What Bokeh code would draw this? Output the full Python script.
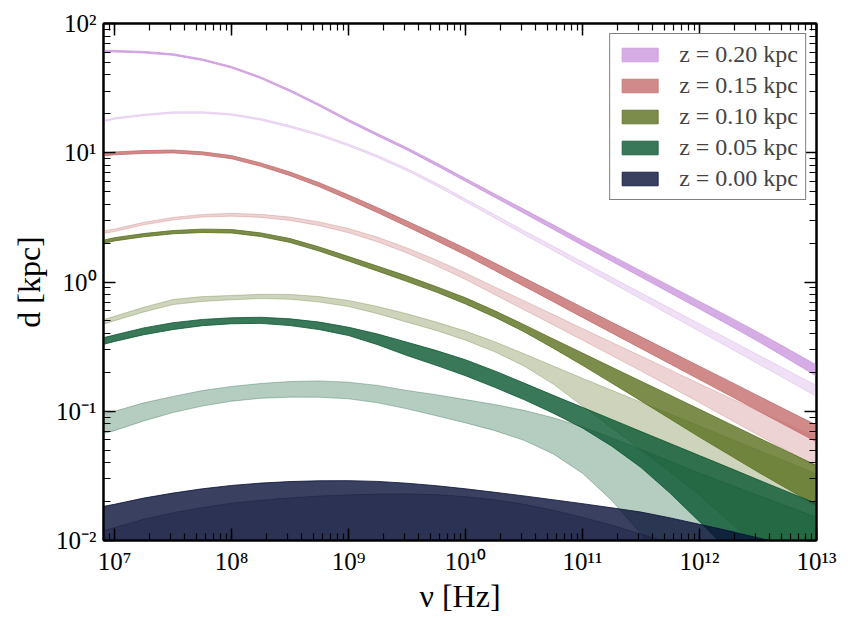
from bokeh.plotting import figure
from bokeh.models import (LogAxis, LogTicker, CustomJSTickFormatter, Legend,
                          LegendItem, Range1d)
from bokeh.embed import file_html
from bokeh.resources import INLINE

# frequency samples, log10(nu / Hz)
LOG10_NU_HZ = [6.9, 7.0, 7.25, 7.5, 7.75, 8.0, 8.25, 8.5, 8.75, 9.0, 9.25, 9.5, 9.75,
               10.0, 10.25, 10.5, 10.75, 11.0, 11.25, 11.5, 11.75, 12.0, 12.25, 12.5,
               12.75, 13.0]

Z_LABELS = ["z = 0.20 kpc", "z = 0.15 kpc", "z = 0.10 kpc",
            "z = 0.05 kpc", "z = 0.00 kpc"]
COLORS = ["#ca97dd", "#c46d6d", "#5a6f1e", "#095631", "#091037"]

# band edges, log10(d / kpc)
Z020_DARK_HI = [1.792, 1.792, 1.784, 1.766, 1.726, 1.668, 1.587, 1.487, 1.376, 1.258, 1.147, 1.039, 0.922,
                0.801, 0.681, 0.562, 0.442, 0.321, 0.204, 0.086, -0.032, -0.150, -0.268, -0.389, -0.515, -0.643]
Z020_DARK_LO = [1.780, 1.780, 1.772, 1.754, 1.714, 1.656, 1.574, 1.473, 1.361, 1.242, 1.130, 1.021, 0.902,
                0.779, 0.655, 0.532, 0.408, 0.283, 0.161, 0.038, -0.085, -0.208, -0.332, -0.459, -0.592, -0.728]
Z020_LIGHT_HI = [1.250, 1.271, 1.298, 1.317, 1.318, 1.302, 1.265, 1.210, 1.146, 1.068, 0.979, 0.879, 0.765,
                 0.643, 0.521, 0.397, 0.277, 0.156, 0.037, -0.084, -0.204, -0.324, -0.443, -0.563, -0.682, -0.801]
Z020_LIGHT_LO = [1.238, 1.259, 1.286, 1.305, 1.306, 1.290, 1.252, 1.196, 1.131, 1.052, 0.962, 0.861, 0.745,
                 0.621, 0.495, 0.367, 0.243, 0.118, -0.007, -0.132, -0.257, -0.382, -0.507, -0.633, -0.759, -0.886]

Z015_DARK_HI = [0.997, 1.006, 1.017, 1.021, 1.007, 0.978, 0.921, 0.851, 0.768, 0.673, 0.574, 0.471, 0.367,
                0.260, 0.147, 0.032, -0.082, -0.197, -0.311, -0.424, -0.538, -0.652, -0.765, -0.880, -0.994, -1.107]
Z015_DARK_LO = [0.975, 0.984, 0.995, 0.999, 0.984, 0.954, 0.895, 0.823, 0.737, 0.639, 0.536, 0.429, 0.320,
                0.208, 0.089, -0.032, -0.152, -0.274, -0.394, -0.514, -0.634, -0.755, -0.875, -0.996, -1.117, -1.237]
Z015_LIGHT_HI = [0.395, 0.410, 0.462, 0.500, 0.523, 0.531, 0.524, 0.502, 0.465, 0.414, 0.346, 0.264, 0.171,
                 0.070, -0.038, -0.145, -0.252, -0.360, -0.467, -0.573, -0.680, -0.788, -0.893, -0.998, -1.100, -1.200]
Z015_LIGHT_LO = [0.375, 0.390, 0.442, 0.480, 0.502, 0.509, 0.500, 0.476, 0.436, 0.382, 0.310, 0.224, 0.126,
                 0.020, -0.098, -0.215, -0.332, -0.450, -0.569, -0.688, -0.810, -0.933, -1.058, -1.183, -1.307, -1.430]

Z010_DARK_HI = [0.323, 0.343, 0.375, 0.398, 0.409, 0.406, 0.380, 0.336, 0.271, 0.197, 0.122, 0.046, -0.036,
                -0.122, -0.222, -0.330, -0.441, -0.550, -0.659, -0.768, -0.876, -0.985, -1.094, -1.203, -1.311, -1.420]
Z010_DARK_LO = [0.298, 0.318, 0.350, 0.373, 0.383, 0.379, 0.352, 0.306, 0.239, 0.162, 0.084, 0.004, -0.078,
                -0.170, -0.272, -0.385, -0.512, -0.645, -0.782, -0.920, -1.060, -1.200, -1.335, -1.470, -1.600, -1.730]
Z010_LIGHT_HI = [-0.293, -0.265, -0.195, -0.135, -0.113, -0.104, -0.095, -0.096, -0.113, -0.143, -0.190, -0.246, -0.310,
                 -0.380, -0.462, -0.555, -0.650, -0.745, -0.838, -0.930, -1.022, -1.115, -1.208, -1.300, -1.392, -1.485]
Z010_LIGHT_LO = [-0.329, -0.300, -0.232, -0.175, -0.150, -0.138, -0.128, -0.133, -0.155, -0.190, -0.245, -0.311, -0.375,
                 -0.450, -0.540, -0.650, -0.790, -0.960, -1.130, -1.300, -1.470, -1.650, -1.850, -2.050, -2.270, -2.500]

Z005_DARK_HI = [-0.432, -0.410, -0.355, -0.315, -0.290, -0.277, -0.273, -0.285, -0.310, -0.350, -0.403, -0.466, -0.530,
                -0.602, -0.688, -0.782, -0.877, -0.970, -1.063, -1.157, -1.250, -1.343, -1.436, -1.530, -1.622, -1.714]
Z005_DARK_LO = [-0.484, -0.460, -0.408, -0.368, -0.338, -0.323, -0.320, -0.337, -0.368, -0.414, -0.485, -0.569, -0.645,
                -0.725, -0.815, -0.910, -1.015, -1.130, -1.270, -1.435, -1.635, -1.855, -2.080, -2.300, -2.550, -2.800]
Z005_LIGHT_HI = [-1.020, -1.000, -0.935, -0.885, -0.840, -0.808, -0.785, -0.770, -0.765, -0.775, -0.800, -0.839, -0.872,
                 -0.910, -0.948, -0.993, -1.050, -1.120, -1.205, -1.295, -1.387, -1.478, -1.565, -1.650, -1.735, -1.820]
Z005_LIGHT_LO = [-1.174, -1.150, -1.075, -1.010, -0.960, -0.922, -0.900, -0.891, -0.892, -0.904, -0.935, -0.981, -1.035,
                 -1.090, -1.150, -1.225, -1.330, -1.480, -1.690, -1.950, -2.250, -2.550, -2.850, -3.150, -3.450, -3.750]

Z000_DARK_HI = [-1.737, -1.720, -1.672, -1.633, -1.600, -1.574, -1.556, -1.544, -1.538, -1.537, -1.543, -1.557, -1.576,
                -1.600, -1.627, -1.655, -1.685, -1.715, -1.747, -1.780, -1.825, -1.875, -1.925, -1.980, -2.030, -2.080]
Z000_DARK_LO = [-3.0, -3.0, -3.0, -3.0, -3.0, -3.0, -3.0, -3.0, -3.0, -3.0, -3.0, -3.0, -3.0,
                -3.0, -3.0, -3.0, -3.0, -3.0, -3.0, -3.0, -3.0, -3.0, -3.0, -3.0, -3.0, -3.0]
Z000_LIGHT_HI = [-1.923, -1.900, -1.835, -1.785, -1.745, -1.711, -1.688, -1.670, -1.656, -1.647, -1.641, -1.639, -1.645,
                 -1.660, -1.685, -1.720, -1.765, -1.820, -1.880, -1.950, -2.020, -2.100, -2.200, -2.300, -2.400, -2.500]
Z000_LIGHT_LO = [-3.0, -3.0, -3.0, -3.0, -3.0, -3.0, -3.0, -3.0, -3.0, -3.0, -3.0, -3.0, -3.0,
                 -3.0, -3.0, -3.0, -3.0, -3.0, -3.0, -3.0, -3.0, -3.0, -3.0, -3.0, -3.0, -3.0]

BANDS = [
    (Z020_DARK_HI, Z020_DARK_LO, Z020_LIGHT_HI, Z020_LIGHT_LO),
    (Z015_DARK_HI, Z015_DARK_LO, Z015_LIGHT_HI, Z015_LIGHT_LO),
    (Z010_DARK_HI, Z010_DARK_LO, Z010_LIGHT_HI, Z010_LIGHT_LO),
    (Z005_DARK_HI, Z005_DARK_LO, Z005_LIGHT_HI, Z005_LIGHT_LO),
    (Z000_DARK_HI, Z000_DARK_LO, Z000_LIGHT_HI, Z000_LIGHT_LO),
]

FONT = "Liberation Serif"

NU_HZ = [10 ** v for v in LOG10_NU_HZ]

p = figure(frame_width=713, frame_height=517, x_axis_type="log", y_axis_type="log",
           x_range=Range1d(8.05e6, 1e13), y_range=Range1d(0.01, 100),
           output_backend="svg", toolbar_location=None,
           min_border_left=103, min_border_right=31,
           min_border_top=23, min_border_bottom=60)
p.xgrid.visible = False
p.ygrid.visible = False
p.background_fill_color = "white"
p.outline_line_color = "black"
p.outline_line_width = 2


def polygon(hi, lo):
    xs = NU_HZ + NU_HZ[::-1]
    ys = [10 ** v for v in hi] + [10 ** v for v in lo[::-1]]
    return xs, ys


legend_items = []
for label, color, (dhi, dlo, lhi, llo) in zip(Z_LABELS, COLORS, BANDS):
    xs, ys = polygon(lhi, llo)
    p.patch(xs, ys, fill_color=color, fill_alpha=0.3,
            line_color=color, line_alpha=0.3, line_width=1)
    xs, ys = polygon(dhi, dlo)
    r = p.patch(xs, ys, fill_color=color, fill_alpha=0.8,
                line_color=color, line_alpha=0.8, line_width=1)
    legend_items.append(LegendItem(label=label, renderers=[r]))

sup_js = """
const sup = {"-": "⁻", "0": "⁰", "1": "¹", "2": "²", "3": "³", "4": "⁴",
             "5": "⁵", "6": "⁶", "7": "⁷", "8": "⁸", "9": "⁹"};
const e = Math.round(Math.log10(tick));
return "10" + String(e).split("").map(c => sup[c]).join("");
"""


def style(ax, labels=True):
    ax.ticker = LogTicker(num_minor_ticks=10)
    ax.axis_line_width = 2
    ax.axis_line_color = "black"
    ax.major_tick_in = 12
    ax.major_tick_out = 0
    ax.minor_tick_in = 7
    ax.minor_tick_out = 0
    ax.major_tick_line_width = 1.5
    ax.minor_tick_line_width = 1.2
    ax.major_tick_line_color = "black"
    ax.minor_tick_line_color = "black"
    if labels:
        ax.formatter = CustomJSTickFormatter(code=sup_js)
        ax.major_label_text_font = FONT
        ax.major_label_text_font_size = "25px"
        ax.major_label_text_color = "black"
        ax.major_label_standoff = 7
    else:
        ax.formatter = CustomJSTickFormatter(code="return '';")
        ax.major_label_text_font_size = "1px"


xax = p.below[0]
yax = p.left[0]
style(xax)
style(yax)
xax.axis_label = "ν [Hz]"
yax.axis_label = "d [kpc]"
for ax in (xax, yax):
    ax.axis_label_text_font = FONT
    ax.axis_label_text_font_size = "32px"
    ax.axis_label_text_font_style = "normal"
    ax.axis_label_text_color = "black"
xax.axis_label_standoff = 0
yax.axis_label_standoff = 6

top = LogAxis()
right = LogAxis()
style(top, labels=False)
style(right, labels=False)
p.add_layout(top, "above")
p.add_layout(right, "right")

legend = Legend(items=legend_items, location="top_right",
                label_text_font=FONT, label_text_font_size="24px",
                glyph_width=45, glyph_height=17, label_height=22,
                spacing=4, padding=7, label_standoff=17,
                border_line_color="black", border_line_width=1.5,
                background_fill_color="white", background_fill_alpha=1.0,
                margin=10)
p.add_layout(legend)

open("out.html", "w").write(file_html(p, INLINE))
